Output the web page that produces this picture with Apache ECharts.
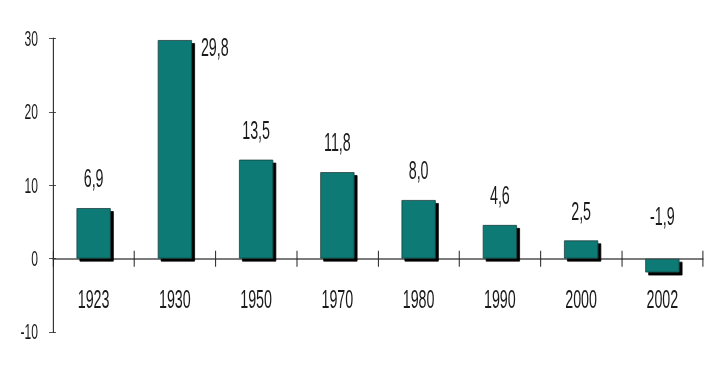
<!DOCTYPE html>
<html><head><meta charset="utf-8">
<script src="https://cdn.jsdelivr.net/npm/echarts@6/dist/echarts.min.js"></script>
<style>html,body{margin:0;padding:0;background:#fff;overflow:hidden}
#wrap{width:721px;height:369px;overflow:hidden;position:relative}
#c{height:369px;transform-origin:0 0;position:absolute;left:0;top:0}</style>
</head><body><div id="wrap"><div id="c"></div></div>
<script>
const categories = ['1923','1930','1950','1970','1980','1990','2000','2002'];
const values = [6.9, 29.8, 13.5, 11.8, 8.0, 4.6, 2.5, -1.9];
const yTicks = [-10, 0, 10, 20, 30];

// The reference uses a tall, condensed typeface; emulate it by drawing the
// chart in a wider space and squeezing it horizontally.
const S = 0.55;
const W = 721 / S;
const el = document.getElementById('c');
el.style.width = W + 'px';
el.style.transform = 'scaleX(' + S + ')';

const FONT = '"Liberation Sans", Arial, sans-serif';
const fmt = v => v.toFixed(1).replace('.', ',');
const maxV = Math.max(...values);
const BW = 34 / S;
const GRID = { top: 38.5, bottom: 37 };
const yMin = yTicks[0], yMax = yTicks[yTicks.length - 1];
// distance from the grid's bottom edge up to the zero line
const zeroLift = (369 - GRID.top - GRID.bottom) * (0 - yMin) / (yMax - yMin);

const barData = values.map(v => {
  const item = { value: v };
  if (v === maxV) {
    item.label = { position: [BW + 9 / S, -6], align: 'left', verticalAlign: 'top' };
  } else if (v < 0) {
    item.label = { position: 'top', distance: 30 };
  }
  return item;
});

const chart = echarts.init(el, null, { renderer: 'svg', width: W, height: 369 });
chart.setOption({
  animation: false,
  grid: { left: 53 / S, right: 18 / S, top: GRID.top, bottom: GRID.bottom, containLabel: false, outerBoundsMode: 'none' },
  xAxis: [{
    type: 'category', data: categories, position: 'bottom',
    axisLine: { onZero: true, lineStyle: { color: '#7c7c7c', width: 2 } },
    axisTick: { show: true, length: 8, lineStyle: { color: '#222', width: 1 / S } },
    axisLabel: { show: false },
    splitLine: { show: false }
  }, {
    type: 'category', data: categories, position: 'bottom', offset: -zeroLift,
    axisLine: { show: false, onZero: false },
    axisTick: { show: true, inside: true, length: 8, lineStyle: { color: '#222', width: 1 / S } },
    axisLabel: { margin: 27, interval: 0, color: '#1a1a1a', fontFamily: FONT, fontSize: 26 },
    splitLine: { show: false }
  }],
  yAxis: [{
    type: 'value', min: yMin, max: yMax, interval: 10, position: 'left',
    axisLine: { show: true, onZero: false, lineStyle: { color: '#111', width: 1 / S } },
    axisTick: { show: true, length: 4 / S, lineStyle: { color: '#222', width: 1 } },
    axisLabel: { margin: 15 / S, color: '#1a1a1a', fontFamily: FONT, fontSize: 22 },
    splitLine: { show: false }
  }, {
    type: 'value', min: yMin, max: yMax, interval: 10, position: 'left',
    axisLine: { show: false, onZero: false },
    axisTick: { show: true, inside: true, length: 3 / S, lineStyle: { color: '#222', width: 1 } },
    axisLabel: { show: false }, splitLine: { show: false }
  }],
  series: [{
    type: 'bar', data: barData, barWidth: BW, xAxisIndex: 0, yAxisIndex: 0,
    itemStyle: {
      color: '#087a74', borderColor: '#1f3f3d', borderWidth: 1,
      shadowColor: '#000', shadowOffsetX: 3 / S, shadowOffsetY: 3, shadowBlur: 0
    },
    label: {
      show: true, position: 'top', distance: 17,
      color: '#1a1a1a', fontFamily: FONT, fontSize: 26,
      formatter: p => fmt(p.value)
    }
  }]
});
</script></body></html>
